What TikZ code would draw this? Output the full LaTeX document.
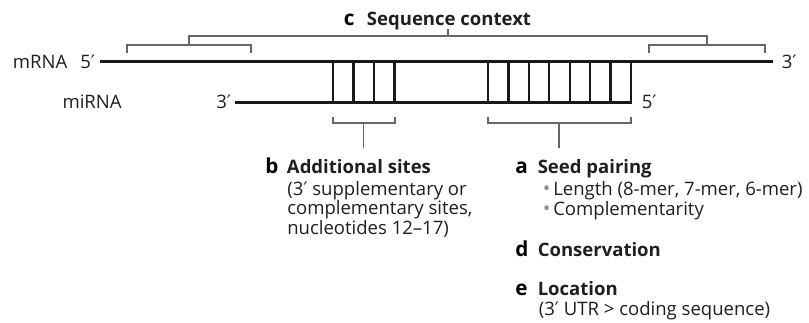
\documentclass[tikz,border=0pt]{standalone}
\usepackage{fontspec}
\setmainfont{Open Sans}
\newfontfamily\primefont{DejaVu Sans}
\newcommand{\primemark}{{\primefont ′}}
\begin{document}
\begin{tikzpicture}[x=0.75pt,y=-0.75pt,
  strand/.style={line width=2.4pt,draw=black!90},
  rung/.style={line width=1.7pt,draw=black!90},
  brace/.style={line width=0.8pt,draw=black!60},
  txt/.style={inner sep=0pt,anchor=base west,font=\fontsize{13.9}{15}\selectfont,text=black!88},
  head/.style={txt,font=\fontsize{13.9}{15}\selectfont\bfseries,text=black!88},
  key/.style={txt,font=\fontsize{15.5}{15}\selectfont\bfseries,text=black},
  dot/.style={txt,font=\fontsize{15}{15}\selectfont,text=black!45}]
\useasboundingbox (0,0) rectangle (809,322);

% mRNA and miRNA strands
\coordinate (m1) at (100,61.5);
\coordinate (m2) at (773,61.5);
\coordinate (r1) at (235,102.5);
\coordinate (r2) at (632,102.5);
\draw[strand] (m1) -- (m2);
\draw[strand] (r1) -- (r2);
\node[txt] (mrna) at (12.7,68) {mRNA};
\node[txt] (m5) at (80,68) {5\primemark};
\node[txt] (m3) at (781.5,68) {3\primemark};
\node[txt] (mirna) at (62.3,108) {miRNA};
\node[txt] (r3) at (216,108) {3\primemark};
\node[txt] (r5) at (641.5,108) {5\primemark};

% base pairs: additional sites and seed region
\foreach \x in {333,353.5,374,394.5}
  \draw[rung] (\x,61.5) -- (\x,102.5);
\foreach \i in {0,...,7}
  \draw[rung] (488+20.43*\i,61.5) -- (488+20.43*\i,102.5);

% sequence context brackets
\draw[brace] (127,53) -- (127,45) -- (251,45) -- (251,53);
\draw[brace] (649,53) -- (649,45) -- (765,45) -- (765,53);
\draw[brace] (189,45) -- (189,36) -- (707,36) -- (707,45);
\draw[brace] (448,36) -- (448,29);
\node[key] (ck) at (343.5,25) {c};
\node[head] (ch) at (366.7,25) {Sequence context};

% brackets under the paired regions
\draw[brace] (333,117) -- (333,123) -- (395,123) -- (395,117);
\draw[brace] (363.5,123) -- (363.5,148);
\draw[brace] (488,117) -- (488,123) -- (631,123) -- (631,117);
\draw[brace] (559,123) -- (559,148);

% b: additional sites
\node[key] (bk) at (265,173) {b};
\node[head] (bh) at (286.7,173) {Additional sites};
\node[txt] (b1) at (287,195.5) {(3\primemark\ supplementary or};
\node[txt] (b2) at (287,214.8) {complementary sites,};
\node[txt] (b3) at (287,234) {nucleotides 12–17)};

% a: seed pairing
\node[key] (ak) at (515,173) {a};
\node[head] (ah) at (537.5,173) {Seed pairing};
\node[dot] (a1d) at (542.5,195) {•};
\node[txt] (a1) at (553,195) {Length (8-mer, 7-mer, 6-mer)};
\node[dot] (a2d) at (542.5,215) {•};
\node[txt] (a2) at (553,215) {Complementarity};

% d: conservation
\node[key] (dk) at (515,256.5) {d};
\node[head] (dh) at (537.5,256.5) {Conservation};

% e: location
\node[key] (ek) at (515,295) {e};
\node[head] (eh) at (537.5,295) {Location};
\node[txt] (e1) at (538.5,315) {(3\primemark\ UTR > coding sequence)};
\end{tikzpicture}
\end{document}
